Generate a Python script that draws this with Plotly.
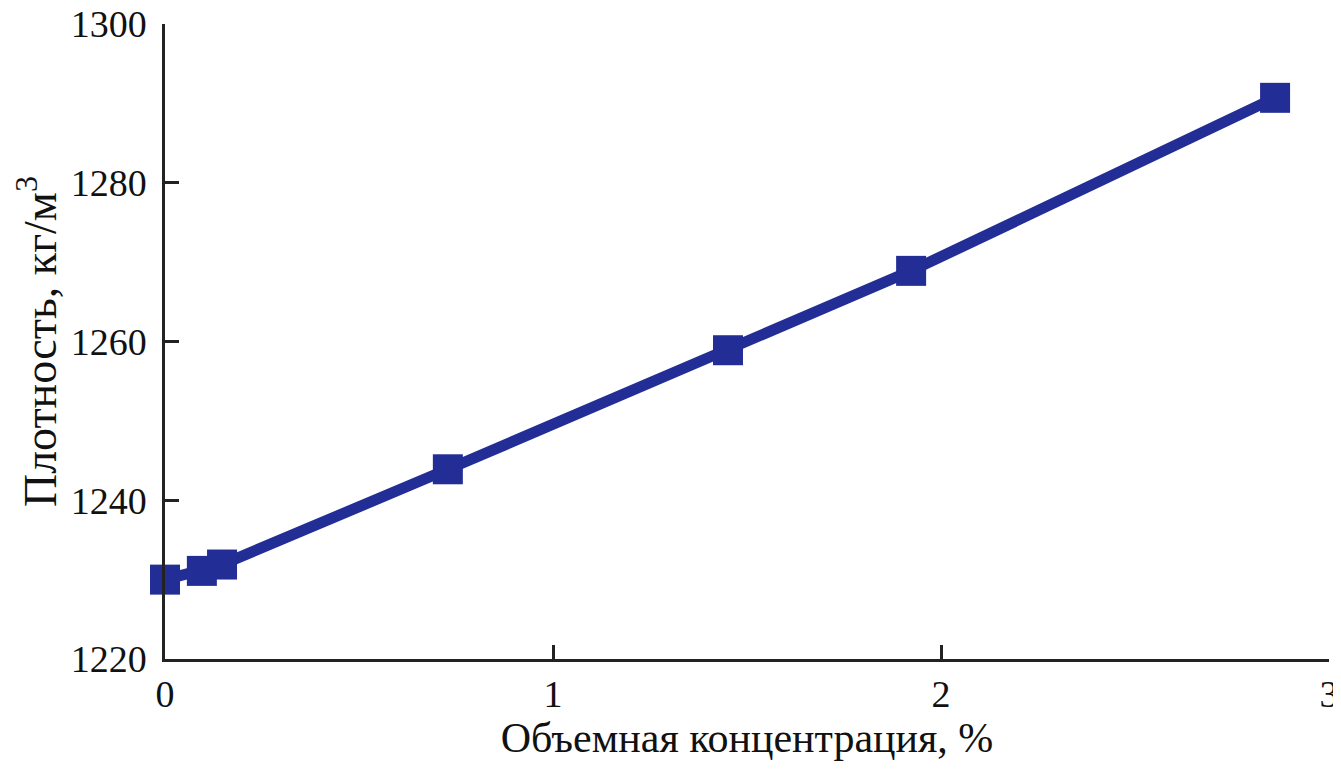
import plotly.graph_objects as go

concentration = [0.0, 0.095, 0.147, 0.729, 1.451, 1.923, 2.861]
density = [1230.0, 1231.1, 1231.9, 1243.9, 1258.9, 1268.9, 1290.7]

x_ticks = [0, 1, 2, 3]
y_ticks = [1220, 1240, 1260, 1280, 1300]

color = "#232d96"

fig = go.Figure()
fig.add_trace(go.Scatter(
    x=concentration, y=density, mode="lines+markers",
    line=dict(color=color, width=11),
    marker=dict(symbol="square", size=30, color=color),
    cliponaxis=False, showlegend=False,
))

family = "Liberation Serif, Times New Roman, serif"
font = dict(family=family, size=38, color="#111111")

# page body has an 8px default margin; size the figure to fill the window
fig.update_layout(
    width=1333, height=762,
    margin=dict(l=157, r=12, t=16, b=111),
    paper_bgcolor="white", plot_bgcolor="white",
    font=font,
    xaxis=dict(
        range=[0, 3], tickvals=x_ticks, ticktext=[str(v) for v in x_ticks],
        showline=True, linecolor="#222222", linewidth=2.5,
        ticks="inside", ticklen=14, tickwidth=2.5, tickcolor="#222222",
        showgrid=False, zeroline=False, automargin=False,
        ticklabeloverflow="allow",
        title=dict(text="Объемная концентрация, %", standoff=8,
                   font=dict(family=family, size=42, color="#111111")),
        tickfont=font,
    ),
    yaxis=dict(
        range=[1220, 1300], tickvals=y_ticks, ticktext=[str(v) for v in y_ticks],
        showline=True, linecolor="#222222", linewidth=2.5,
        ticks="inside", ticklen=14, tickwidth=2.5, tickcolor="#222222",
        showgrid=False, zeroline=False, automargin=False,
        ticklabelstandoff=8, ticklabeloverflow="allow",
        title=dict(text="Плотность, кг/м<sup>3</sup>", standoff=22,
                   font=dict(family=family, size=46, color="#111111")),
        tickfont=font,
    ),
)

fig.write_html("out.html")
